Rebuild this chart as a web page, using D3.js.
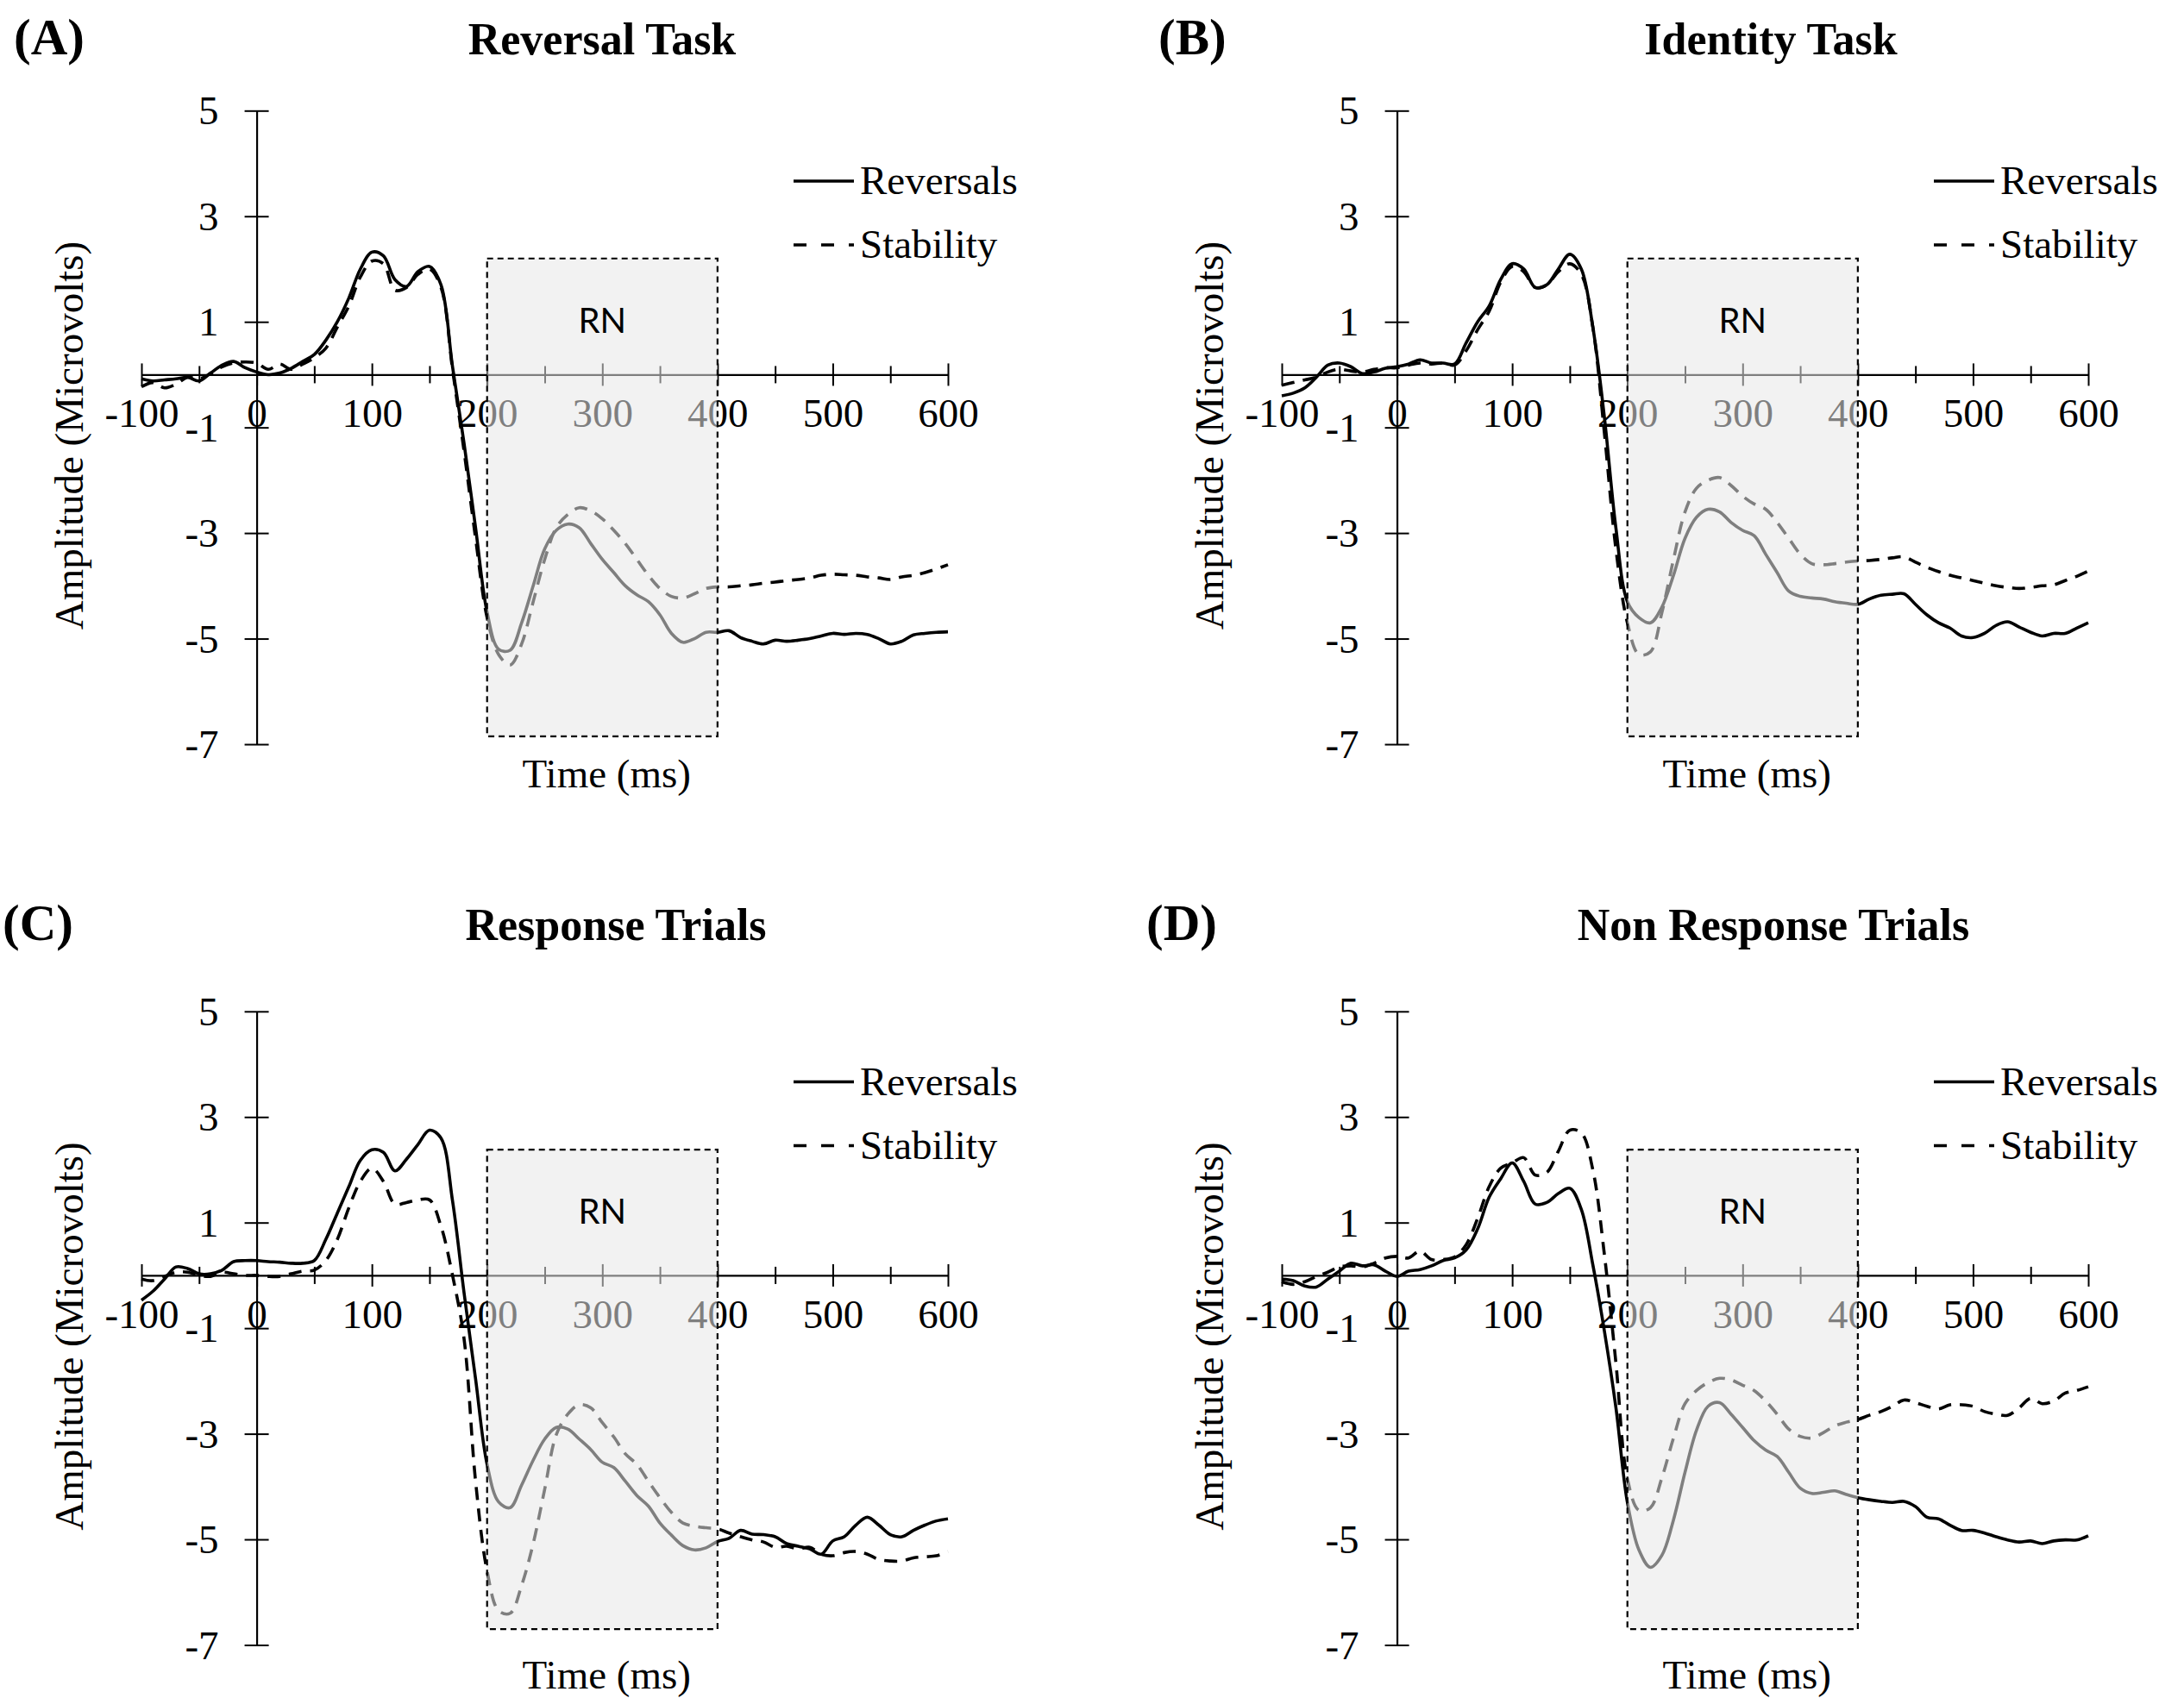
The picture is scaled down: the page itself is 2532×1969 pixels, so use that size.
<!DOCTYPE html>
<html>
<head>
<meta charset="utf-8">
<script src="https://cdn.jsdelivr.net/npm/d3@7"></script>
<style>
  body { margin: 0; background: #fff; }
  svg text { font-family: "Liberation Serif", "Times New Roman", serif; }
</style>
</head>
<body>
<script>
// sample times (ms) shared by all the waveforms
const timeMs = [-100, -90, -80, -70, -60, -50, -40, -30, -20, -10,
  0, 10, 20, 30, 40, 50, 60, 70, 80, 90,
  100, 110, 120, 130, 140, 150, 160, 170, 180, 190,
  200, 210, 220, 230, 240, 250, 260, 270, 280, 290,
  300, 310, 320, 330, 340, 350, 360, 370, 380, 390,
  400, 410, 420, 430, 440, 450, 460, 470, 480, 490,
  500, 510, 520, 530, 540, 550, 560, 570, 580, 590, 600];

// (A) Reversal Task
const reversalsA = [-0.08, -0.12, -0.1, -0.08, -0.05, -0.12, 0.03, 0.18, 0.25, 0.13,
  0.05, 0.0, 0.03, 0.12, 0.25, 0.38, 0.65, 1.0, 1.45, 2.0,
  2.32, 2.25, 1.8, 1.67, 1.95, 2.05, 1.7, 0.15, -1.3, -2.9,
  -4.5, -5.2, -5.22, -4.7, -4.0, -3.3, -2.95, -2.83, -2.9, -3.2,
  -3.5, -3.75, -4.0, -4.17, -4.3, -4.55, -4.9, -5.07, -5.0, -4.88,
  -4.88, -4.85, -4.98, -5.05, -5.1, -5.03, -5.05, -5.03, -5.0, -4.95,
  -4.9, -4.92, -4.9, -4.92, -5.0, -5.1, -5.05, -4.93, -4.9, -4.88, -4.87];
const stabilityA = [-0.23, -0.15, -0.25, -0.18, -0.05, -0.08, 0.02, 0.15, 0.22, 0.24,
  0.22, 0.1, 0.2, 0.1, 0.2, 0.32, 0.5, 0.9, 1.3, 1.85,
  2.15, 2.1, 1.6, 1.65, 1.9, 2.0, 1.65, 0.1, -1.45, -3.1,
  -4.6, -5.3, -5.5, -5.1, -4.3, -3.5, -2.9, -2.65, -2.52, -2.58,
  -2.73, -2.95, -3.2, -3.5, -3.8, -4.05, -4.2, -4.23, -4.15, -4.05,
  -4.02, -4.02, -4.0, -3.98, -3.95, -3.93, -3.9, -3.88, -3.85, -3.8,
  -3.78, -3.79, -3.8, -3.83, -3.85, -3.88, -3.83, -3.8, -3.75, -3.68, -3.6];

// (B) Identity Task
const reversalsB = [-0.4, -0.35, -0.25, -0.05, 0.18, 0.22, 0.15, 0.02, 0.05, 0.12,
  0.15, 0.2, 0.28, 0.22, 0.22, 0.2, 0.6, 1.0, 1.3, 1.8,
  2.1, 2.0, 1.65, 1.7, 2.0, 2.28, 2.0, 0.9, -0.8, -2.9,
  -4.3, -4.6, -4.7, -4.4, -3.8, -3.1, -2.7, -2.55, -2.6, -2.8,
  -2.95, -3.05, -3.4, -3.75, -4.1, -4.2, -4.23, -4.25, -4.3, -4.33,
  -4.35, -4.25, -4.18, -4.16, -4.15, -4.35, -4.55, -4.7, -4.8, -4.95,
  -4.98, -4.9, -4.75, -4.68, -4.78, -4.88, -4.95, -4.9, -4.9, -4.8, -4.7];
const stabilityB = [-0.2, -0.15, -0.1, -0.05, 0.05, 0.1, 0.07, 0.05, 0.1, 0.13,
  0.13, 0.18, 0.22, 0.2, 0.22, 0.18, 0.45, 0.85, 1.2, 1.75,
  2.05, 1.95, 1.65, 1.7, 1.95, 2.1, 1.9, 0.9, -1.1, -3.3,
  -4.7, -5.3, -5.25, -4.5, -3.5, -2.6, -2.15, -2.0, -1.95, -2.1,
  -2.3, -2.45, -2.55, -2.8, -3.1, -3.4, -3.58, -3.6, -3.58, -3.55,
  -3.53, -3.52, -3.5, -3.47, -3.45, -3.55, -3.65, -3.73, -3.8, -3.85,
  -3.9, -3.95, -4.0, -4.03, -4.05, -4.03, -4.0, -3.98, -3.9, -3.82, -3.72];

// (C) Response Trials
const reversalsC = [-0.47, -0.3, -0.07, 0.16, 0.13, 0.03, 0.03, 0.1, 0.26, 0.28,
  0.28, 0.26, 0.25, 0.23, 0.23, 0.28, 0.68, 1.18, 1.68, 2.18,
  2.38, 2.33, 1.98, 2.2, 2.48, 2.75, 2.6, 1.41, -0.33, -1.96,
  -3.58, -4.29, -4.4, -3.97, -3.5, -3.1, -2.88, -2.91, -3.1, -3.3,
  -3.54, -3.64, -3.9, -4.17, -4.37, -4.69, -4.92, -5.12, -5.2, -5.16,
  -5.04, -4.98, -4.83, -4.9, -4.91, -4.95, -5.08, -5.13, -5.18, -5.28,
  -5.03, -4.95, -4.73, -4.58, -4.73, -4.91, -4.95, -4.83, -4.73, -4.65, -4.61];
const stabilityC = [-0.07, -0.1, -0.02, 0.06, 0.06, 0.0, -0.02, 0.06, 0.03, 0.0,
  0.0, -0.02, -0.02, 0.03, 0.08, 0.1, 0.28, 0.68, 1.28, 1.78,
  2.03, 1.78, 1.35, 1.38, 1.43, 1.43, 0.93, 0.0, -1.2, -3.9,
  -5.6, -6.35, -6.4, -5.87, -5.08, -4.05, -3.02, -2.63, -2.45, -2.51,
  -2.79, -3.06, -3.38, -3.58, -3.9, -4.21, -4.49, -4.69, -4.75, -4.78,
  -4.8, -4.88, -4.95, -5.01, -5.05, -5.15, -5.13, -5.18, -5.15, -5.28,
  -5.31, -5.25, -5.23, -5.28, -5.38, -5.41, -5.41, -5.35, -5.33, -5.31, -5.23];

// (D) Non Response Trials
const reversalsD = [-0.07, -0.1, -0.2, -0.22, -0.07, 0.08, 0.23, 0.18, 0.2, 0.08,
  -0.02, 0.08, 0.11, 0.18, 0.28, 0.33, 0.48, 0.88, 1.48, 1.83,
  2.13, 1.78, 1.35, 1.38, 1.55, 1.65, 1.25, 0.2, -1.05, -2.5,
  -4.3, -5.2, -5.53, -5.3, -4.63, -3.73, -2.93, -2.48, -2.41, -2.63,
  -2.88, -3.13, -3.31, -3.43, -3.73, -4.03, -4.13, -4.11, -4.08, -4.15,
  -4.21, -4.25, -4.28, -4.3, -4.28, -4.38, -4.58, -4.61, -4.73, -4.83,
  -4.83, -4.88, -4.95, -5.01, -5.05, -5.03, -5.08, -5.03, -5.01, -5.01, -4.93];
const stabilityD = [-0.12, -0.17, -0.12, -0.02, 0.06, 0.16, 0.18, 0.16, 0.23, 0.33,
  0.36, 0.33, 0.46, 0.3, 0.3, 0.35, 0.58, 1.08, 1.68, 2.03,
  2.13, 2.23, 1.9, 1.95, 2.35, 2.75, 2.7, 2.0, 0.4, -1.65,
  -3.85, -4.45, -4.4, -3.83, -3.08, -2.43, -2.18, -2.03, -1.95, -1.98,
  -2.08, -2.18, -2.38, -2.63, -2.91, -3.05, -3.08, -2.98, -2.85, -2.78,
  -2.73, -2.65, -2.58, -2.48, -2.36, -2.41, -2.48, -2.53, -2.45, -2.45,
  -2.48, -2.58, -2.63, -2.65, -2.51, -2.33, -2.43, -2.38, -2.23, -2.18, -2.11];

const panelLetters = ["(A)", "(B)", "(C)", "(D)"];
const panelTitles = ["Reversal Task", "Identity Task", "Response Trials", "Non Response Trials"];
const legendLabels = ["Reversals", "Stability"];
const xTicks = [-100, 0, 100, 200, 300, 400, 500, 600];
const xMinorTicks = [-50, 50, 150, 250, 350, 450, 550];
const yTicks = [5, 3, 1, -1, -3, -5, -7];
const rnWindow = [200, 400];
const rnTop = [2.2, 2.2, 2.38, 2.38];
const rnBottom = [-6.85, -6.85, -6.7, -6.7];

const reversalSeries = [reversalsA, reversalsB, reversalsC, reversalsD];
const stabilitySeries = [stabilityA, stabilityB, stabilityC, stabilityD];

// page layout
const W = 2532, H = 1969;
const panelOffset = [[0, 0], [1322, 0], [0, 1044.5], [1322, 1044.5]];
const letterX = [16, 1343, 3, 1329];
const titleX = [698, 2053, 714, 2056];
const headerY = [63, 63, 1090, 1090];

const svg = d3.select("body").append("svg")
  .attr("width", W)
  .attr("height", H)
  .style("background", "#fff");

const x = d3.scaleLinear().domain([-100, 600]).range([164, 1099]);
const y = d3.scaleLinear().domain([-7, 5]).range([863, 128.3]);

const line = d3.line()
  .x((d, i) => x(timeMs[i]))
  .y(d => y(d))
  .curve(d3.curveCatmullRom.alpha(0.5));

panelTitles.forEach((title, p) => {
  const g = svg.append("g")
    .attr("transform", `translate(${panelOffset[p][0]},${panelOffset[p][1]})`);

  // x axis through zero, ticks crossing the line
  const xAxis = g.append("g")
    .attr("transform", `translate(0,${y(0)})`)
    .call(d3.axisBottom(x).tickValues(xTicks).tickSize(13).tickSizeOuter(0).tickFormat(d => String(d)));
  xAxis.selectAll(".tick line").attr("y1", -13).attr("stroke-width", 2);
  xAxis.select(".domain").attr("stroke-width", 2.2);
  xAxis.selectAll("text")
    .attr("y", 61).attr("dy", null)
    .attr("font-size", 47)
    .attr("font-family", "Liberation Serif, serif");

  const xMinor = g.append("g")
    .attr("transform", `translate(0,${y(0)})`)
    .call(d3.axisBottom(x).tickValues(xMinorTicks).tickSize(10).tickFormat(""));
  xMinor.select(".domain").remove();
  xMinor.selectAll(".tick line").attr("y1", -10).attr("stroke-width", 2);

  // y axis at time zero
  const yAxis = g.append("g")
    .attr("transform", `translate(${x(0)},0)`)
    .call(d3.axisLeft(y).tickValues(yTicks).tickSize(14).tickSizeOuter(0).tickFormat(d => String(d)));
  yAxis.selectAll(".tick line").attr("x1", 14).attr("stroke-width", 2);
  yAxis.select(".domain").attr("stroke-width", 2.2);
  yAxis.selectAll("text")
    .attr("x", -44).attr("dy", "0.33em")
    .attr("font-size", 47)
    .attr("font-family", "Liberation Serif, serif");

  // waveforms
  g.append("path")
    .datum(reversalSeries[p])
    .attr("d", line)
    .attr("fill", "none")
    .attr("stroke", "#000")
    .attr("stroke-width", 3.6)
    .attr("stroke-linejoin", "round");
  g.append("path")
    .datum(stabilitySeries[p])
    .attr("d", line)
    .attr("fill", "none")
    .attr("stroke", "#000")
    .attr("stroke-width", 3.6)
    .attr("stroke-dasharray", "15,10");

  // RN window drawn over the traces
  g.append("rect")
    .attr("x", x(rnWindow[0]))
    .attr("y", y(rnTop[p]))
    .attr("width", x(rnWindow[1]) - x(rnWindow[0]))
    .attr("height", y(rnBottom[p]) - y(rnTop[p]))
    .attr("fill", "#e8e8e8")
    .attr("fill-opacity", 0.55)
    .attr("stroke", "#000")
    .attr("stroke-width", 2.2)
    .attr("stroke-dasharray", "7,5");
  g.append("text")
    .attr("x", x((rnWindow[0] + rnWindow[1]) / 2))
    .attr("y", y(rnTop[p]) + 86)
    .attr("text-anchor", "middle")
    .style("font-family", "Lato, 'Open Sans', sans-serif")
    .attr("font-size", 40)
    .text("RN");

  // axis titles
  g.append("text")
    .attr("x", x(300) + 5)
    .attr("y", 913)
    .attr("text-anchor", "middle")
    .attr("font-size", 47)
    .text("Time (ms)");
  g.append("text")
    .attr("transform", "translate(96,505) rotate(-90)")
    .attr("text-anchor", "middle")
    .attr("font-size", 47)
    .text("Amplitude (Microvolts)");

  // legend
  const legY = [210, 284];
  legendLabels.forEach((lab, i) => {
    g.append("line")
      .attr("x1", 920).attr("x2", 990)
      .attr("y1", legY[i]).attr("y2", legY[i])
      .attr("stroke", "#000")
      .attr("stroke-width", 3.6)
      .attr("stroke-dasharray", i === 0 ? null : "15,17");
    g.append("text")
      .attr("x", 997)
      .attr("y", legY[i] + 15)
      .attr("font-size", 47)
      .text(lab);
  });

  // panel letter and title
  svg.append("text")
    .attr("x", letterX[p])
    .attr("y", headerY[p])
    .attr("font-size", 59)
    .attr("font-weight", "bold")
    .text(panelLetters[p]);
  svg.append("text")
    .attr("x", titleX[p])
    .attr("y", headerY[p])
    .attr("text-anchor", "middle")
    .attr("font-size", 52)
    .attr("font-weight", "bold")
    .text(title);
});
</script>
</body>
</html>
